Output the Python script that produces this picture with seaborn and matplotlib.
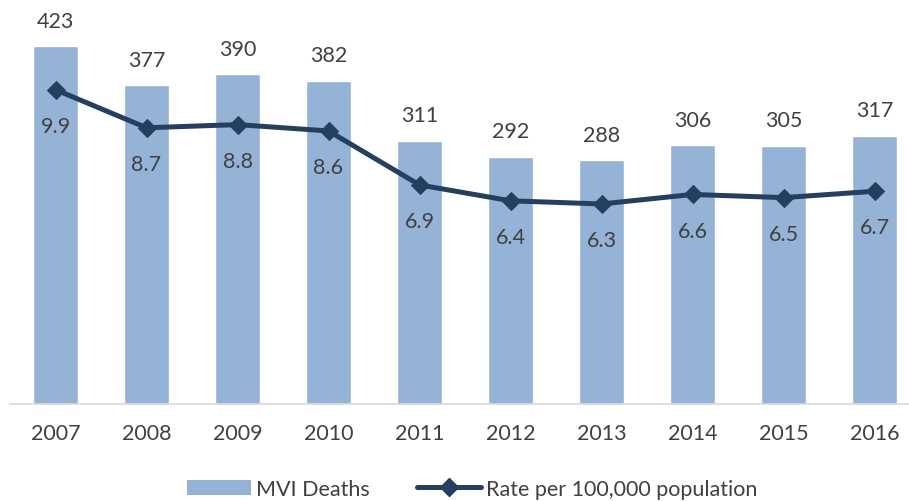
import numpy as np
import pandas as pd
import matplotlib
matplotlib.use("Agg")
import matplotlib.pyplot as plt
import seaborn as sns
from matplotlib.patches import Patch
from matplotlib.lines import Line2D

years = ["2007", "2008", "2009", "2010", "2011", "2012", "2013", "2014", "2015", "2016"]
deaths = [423, 377, 390, 382, 311, 292, 288, 306, 305, 317]
rates = [9.9, 8.7, 8.8, 8.6, 6.9, 6.4, 6.3, 6.6, 6.5, 6.7]
rate_labels = ["9.9", "8.7", "8.8", "8.6", "6.9", "6.4", "6.3", "6.6", "6.5", "6.7"]

sns.set_theme(style="white")
plt.rcParams["font.family"] = ["Lato", "DejaVu Sans"]

BAR = "#95B3D7"
LINE = "#243F60"
TXT = "#404040"

fig = plt.figure(figsize=(9.09, 5.02), dpi=100)
ax = fig.add_axes([10 / 909, 97 / 502, 910 / 909, 381 / 502])

df = pd.DataFrame({"year": years, "deaths": deaths, "rate": rates, "pos": np.arange(len(years))})

sns.barplot(data=df, x="year", y="deaths", color=BAR, saturation=1, width=0.5, ax=ax)
ax.set_ylim(0, 450)
ax.set_xlim(-0.5, len(years) - 0.5)
ax.bar_label(ax.containers[0], labels=[str(d) for d in deaths], padding=11,
             fontsize=15.5, color=TXT)

ax2 = ax.twinx()
sns.lineplot(data=df, x="pos", y="rate", color=LINE, linewidth=3.6, marker="D",
             markersize=9, markeredgecolor=LINE, ax=ax2)
ax2.set_ylim(0, 12)
ax2.set_xlim(-0.5, len(years) - 0.5)
for i, r in enumerate(rates):
    ax2.annotate(rate_labels[i], (i, r), xytext=(0, -26), textcoords="offset points",
                 ha="center", va="center", fontsize=15.5, color=TXT)

for a in (ax, ax2):
    for s in ("top", "left", "right"):
        a.spines[s].set_visible(False)
    a.set_ylabel("")
    a.set_yticks([])
ax2.spines["bottom"].set_visible(False)
ax.set_xlabel("")
ax.spines["bottom"].set_color("#D9D9D9")
ax.spines["bottom"].set_linewidth(1.2)
ax.tick_params(axis="x", length=0, pad=14, labelsize=15.5, labelcolor=TXT)

handles = [Patch(facecolor=BAR, edgecolor="none", label="MVI Deaths"),
           Line2D([0], [0], color=LINE, linewidth=3.6, marker="D", markersize=9,
                  label="Rate per 100,000 population")]
fig.legend(handles=handles, loc="center", bbox_to_anchor=(472 / 909, 1 - 490 / 502),
           ncol=2, frameon=False, fontsize=15.5, handlelength=3.0, handletextpad=0.2,
           columnspacing=2.2, labelcolor=TXT)

fig.savefig("out.png", dpi=100)
